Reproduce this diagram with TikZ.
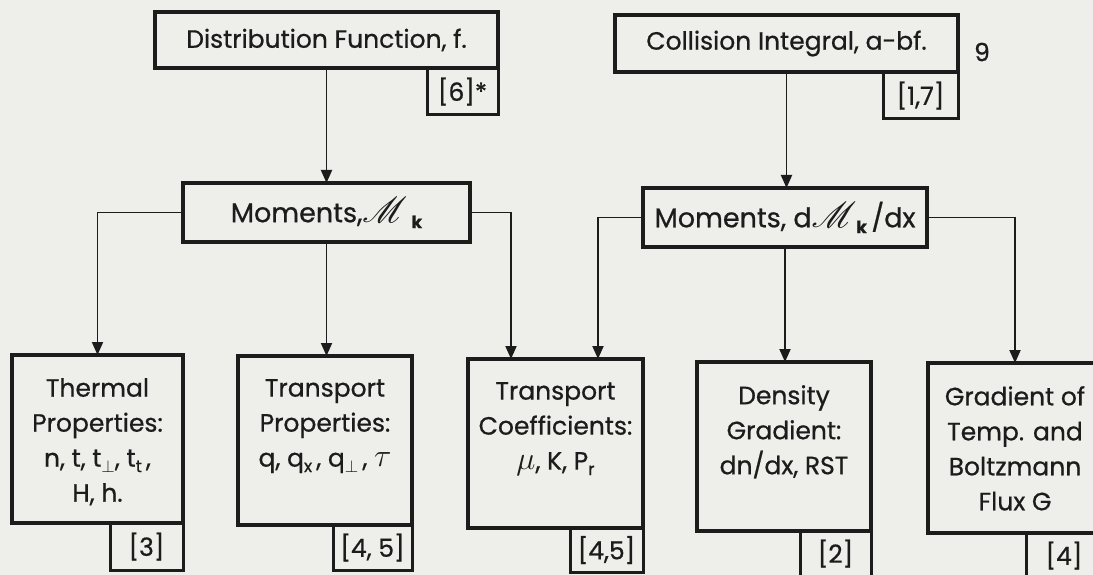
\documentclass[tikz,border=0pt]{standalone}
\usepackage{fontspec}
\setmainfont{Poppins}[FakeBold=0.7]
\usepackage{mathrsfs}
\usetikzlibrary{arrows.meta}
\definecolor{paper}{RGB}{238,238,235}
\definecolor{ink}{RGB}{28,28,28}
% lowered small subscript in running text
\newcommand\lsub[1]{\raisebox{-0.4ex}{\fontsize{17}{17}\selectfont #1}}
% enlarged script M for the moments
\newcommand\scM{\scalebox{1.45}{$\mathscr{M}$}}
% enlarged Greek letters
\newcommand\grk[1]{\scalebox{1.3}{$#1$}}
\begin{document}
\begin{tikzpicture}[x=1pt,y=-1pt,
  box/.style={draw=ink, line width=3.5pt, inner sep=0pt, outer sep=0pt},
  refbox/.style={draw=ink, line width=3pt, inner sep=0pt, outer sep=0pt,
    anchor=north east, text=ink, font=\fontsize{25}{30}\selectfont},
  conn/.style={draw=ink, line width=1.9pt, -{Triangle[length=13pt,width=11pt]}},
  lbl/.style={font=\fontsize{25}{35}\selectfont, align=center, inner sep=0pt, text=ink},
  mlbl/.style={font=\fontsize{27}{32}\selectfont, inner sep=0pt, text=ink}]
\useasboundingbox (0,0) rectangle (1093,575);
\fill[paper] (0,0) rectangle (1093,575);

% top row
\node[box, minimum width=343pt, minimum height=56pt] (dist) at (326.5,40) {};
\node[lbl] (disttxt) at (dist.center) {Distribution Function, f.};
\node[refbox, minimum width=71pt, minimum height=47pt] (distref) at (dist.south east) {[6]*};

\node[box, minimum width=343pt, minimum height=57pt] (coll) at (786.5,43.5) {};
\node[lbl] (colltxt) at (coll.center) {Collision Integral, a-bf.};
\node[refbox, minimum width=75pt, minimum height=47pt] (collref) at (coll.south east) {[1,7]};

\node[lbl] (page) at (982,52) {9};

% moments row
\node[box, minimum width=287pt, minimum height=59pt] (mk) at (326.5,212.5) {};
\node[mlbl] (mktxt) at (mk.center) {Moments,\scM\,\lsub{\bfseries k}};

\node[box, minimum width=284pt, minimum height=59pt] (dm) at (785,217.5) {};
\node[mlbl] (dmtxt) at (dm.center) {Moments, d\scM\lsub{\bfseries k}\,/dx};

% bottom row
\node[box, minimum width=171pt, minimum height=168pt] (thermal) at (97.5,439) {};
\node[lbl, anchor=north] (thermaltxt) at ([yshift=-23pt]thermal.north)
  {Thermal\\Properties:\\n, t, t\lsub{$\perp$}, t\lsub{t}\,,\\H, h.};
\node[refbox, minimum width=73pt, minimum height=47pt] (thermalref) at (thermal.south east) {[3]};

\node[box, minimum width=174pt, minimum height=169pt] (tprop) at (325,440.5) {};
\node[lbl, anchor=north] (tproptxt) at ([yshift=-23pt]tprop.north)
  {Transport\\Properties:\\q, q\lsub{x}\,, q\lsub{$\perp$}\,, \grk{\tau}};
\node[refbox, minimum width=79pt, minimum height=45pt] (tpropref) at (tprop.south east) {[4, 5]};

\node[box, minimum width=175pt, minimum height=169pt] (coef) at (555.5,443.5) {};
\node[lbl, anchor=north] (coeftxt) at ([yshift=-23pt]coef.north)
  {Transport\\Coefficients:\\\grk{\mu}, K, P\lsub{r}};
\node[refbox, minimum width=73pt, minimum height=44pt] (coefref) at (coef.south east) {[4,5]};

\node[box, minimum width=174pt, minimum height=169pt] (dens) at (784,446.5) {};
\node[lbl, anchor=north] (denstxt) at ([yshift=-23pt]dens.north)
  {Density\\Gradient:\\dn/dx, RST};
\node[refbox, minimum width=71pt, minimum height=45pt] (densref) at (dens.south east) {[2]};

\node[box, minimum width=174pt, minimum height=170pt] (grad) at (1015,448) {};
\node[lbl, anchor=north] (gradtxt) at ([yshift=-23pt]grad.north)
  {Gradient of\\Temp. and\\Boltzmann\\Flux G};
\node[refbox, minimum width=76pt, minimum height=45pt] (gradref) at (grad.south east) {[4]};

% connectors
\draw[conn] (dist.south) -- (mk.north);
\draw[conn] (coll.south) -- (coll.south |- dm.north);
\draw[conn] (mk.west) -| (thermal.north);
\draw[conn] (mk.south) -- (mk.south |- tprop.north);
\draw[conn] (mk.east) -| ([xshift=-44.5pt]coef.north);
\draw[conn] (dm.west) -| ([xshift=42.5pt]coef.north);
\draw[conn] (dm.south) -- (dm.south |- dens.north);
\draw[conn] (dm.east) -| (grad.north);
\end{tikzpicture}
\end{document}
